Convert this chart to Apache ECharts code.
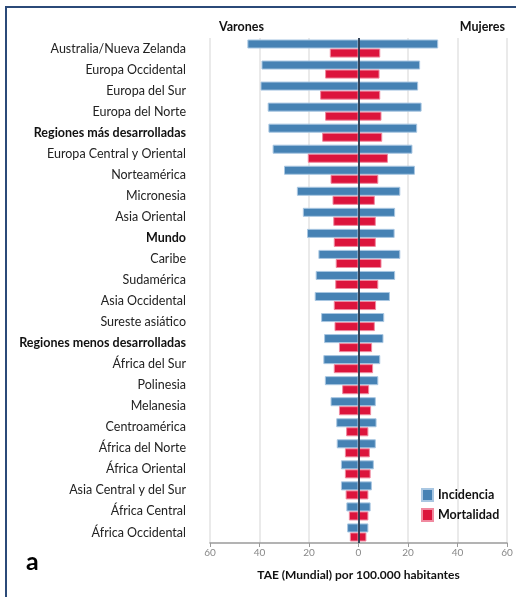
<!DOCTYPE html>
<html>
<head>
<meta charset="utf-8">
<script src="https://cdn.jsdelivr.net/npm/echarts@6/dist/echarts.min.js"></script>
<style>
  html, body { margin: 0; padding: 0; background: #fff; }
  #chart { width: 516px; height: 597px; }
</style>
</head>
<body>
<div id="chart"></div>
<script>
// Regions, top to bottom
const regions = [
  'Australia/Nueva Zelanda', 'Europa Occidental', 'Europa del Sur', 'Europa del Norte',
  'Regiones más desarrolladas', 'Europa Central y Oriental', 'Norteamérica', 'Micronesia',
  'Asia Oriental', 'Mundo', 'Caribe', 'Sudamérica', 'Asia Occidental', 'Sureste asiático',
  'Regiones menos desarrolladas', 'África del Sur', 'Polinesia', 'Melanesia',
  'Centroamérica', 'África del Norte', 'África Oriental', 'Asia Central y del Sur',
  'África Central', 'África Occidental'
];
// Aggregate rows shown in bold
const boldRegions = ['Regiones más desarrolladas', 'Mundo', 'Regiones menos desarrolladas'];

// Age-standardised rates (world) per 100,000
const incidenceMen = [44.9, 39.2, 39.6, 36.7, 36.4, 34.7, 30.1, 24.9, 22.5, 20.8, 16.2, 17.3,
  17.7, 15.1, 13.9, 14.2, 13.6, 11.3, 9.0, 8.8, 7.1, 7.1, 4.9, 4.6];
const incidenceWomen = [32.2, 24.9, 24.1, 25.5, 23.7, 21.8, 22.8, 16.9, 14.8, 14.6, 16.9, 14.8,
  12.7, 10.4, 10.1, 8.8, 8.0, 7.0, 7.3, 7.0, 6.2, 5.4, 4.9, 4.0];
const mortalityMen = [11.6, 13.5, 15.5, 13.5, 14.7, 20.5, 11.3, 10.5, 10.2, 10.0, 9.2, 9.4,
  10.0, 9.7, 7.9, 10.0, 6.6, 7.9, 5.0, 5.5, 5.5, 5.2, 3.9, 3.5];
const mortalityWomen = [8.8, 8.5, 8.8, 9.3, 9.6, 11.9, 8.0, 6.6, 7.0, 7.0, 9.3, 8.0,
  7.1, 6.6, 5.5, 5.9, 4.3, 5.1, 4.0, 4.6, 4.9, 4.0, 4.0, 3.2];

// Value axis ticks
const axisMin = -60, axisMax = 60, axisStep = 20;

const BLUE = '#4682b4';
const RED = '#dc143c';
const FONT = 'Lato, "Open Sans", sans-serif';

const neg = arr => arr.map(v => -v);

const chart = echarts.init(document.getElementById('chart'), null, { renderer: 'canvas' });

function barSeries(name, stack, data, color, border) {
  return {
    name, type: 'bar', stack, data,
    barGap: '0%', barCategoryGap: '14%',
    itemStyle: { color, borderColor: border, borderWidth: 1 },
    emphasis: { disabled: true },
    z: 2
  };
}

const option = {
  animation: false,
  textStyle: { fontFamily: FONT },
  grid: { left: 210, right: 9, top: 38, bottom: 54, containLabel: false },
  legend: {
    orient: 'vertical', left: 416, top: 483,
    itemWidth: 11, itemHeight: 12, itemGap: 6,
    icon: 'rect',
    data: ['Incidencia', 'Mortalidad'],
    textStyle: { fontFamily: FONT, fontSize: 12.5, fontWeight: 'bold', color: '#111' }
  },
  xAxis: {
    type: 'value', min: axisMin, max: axisMax, interval: axisStep,
    name: 'TAE (Mundial) por 100.000 habitantes',
    nameLocation: 'middle', nameGap: 26,
    nameTextStyle: { fontFamily: FONT, fontSize: 12, fontWeight: 'bold', color: '#111' },
    axisLine: { show: true, lineStyle: { color: '#9a9a9a', width: 1.5 } },
    axisTick: { show: true, length: 4, lineStyle: { color: '#9a9a9a' } },
    axisLabel: { color: '#888', fontSize: 10, margin: 5, formatter: v => Math.abs(v) },
    splitLine: { show: true, lineStyle: { color: '#e3e3e3', width: 1.5 } }
  },
  yAxis: {
    type: 'category', data: regions, inverse: true,
    axisLine: { show: false }, axisTick: { show: false },
    splitLine: { show: false },
    axisLabel: {
      margin: 24, fontSize: 12.5, color: '#222', fontFamily: FONT,
      formatter: v => boldRegions.includes(v) ? '{b|' + v + '}' : v,
      rich: { b: { fontWeight: 'bold', fontSize: 12.5, color: '#111', fontFamily: FONT } }
    }
  },
  series: [
    barSeries('Incidencia', 'inc', neg(incidenceMen), BLUE, '#a9c7e2'),
    barSeries('Mortalidad', 'mort', neg(mortalityMen), RED, '#f08aa0'),
    Object.assign(barSeries('Incidencia', 'inc', incidenceWomen, BLUE, '#a9c7e2'), {
      markLine: {
        silent: true, symbol: 'none', label: { show: false },
        lineStyle: { color: '#1c2e44', width: 2, type: 'solid', opacity: 0.85 },
        data: [{ xAxis: 0 }], z: 10
      }
    }),
    barSeries('Mortalidad', 'mort', mortalityWomen, RED, '#f08aa0')
  ],
  graphic: [
    { type: 'text', left: 219, top: 20, style: { text: 'Varones', fontFamily: FONT, fontSize: 12.5, fontWeight: 'bold', fill: '#111' } },
    { type: 'text', right: 11, top: 20, style: { text: 'Mujeres', fontFamily: FONT, fontSize: 12.5, fontWeight: 'bold', fill: '#111' } },
    { type: 'text', left: 26, top: 549, style: { text: 'a', fontFamily: FONT, fontSize: 25, fontWeight: 'bold', fill: '#000' } },
    { type: 'polyline', shape: { points: [[6, 597], [6, 7], [516, 7]] }, style: { stroke: '#2b4a78', lineWidth: 2, fill: null } }
  ]
};

chart.setOption(option);
</script>
</body>
</html>
